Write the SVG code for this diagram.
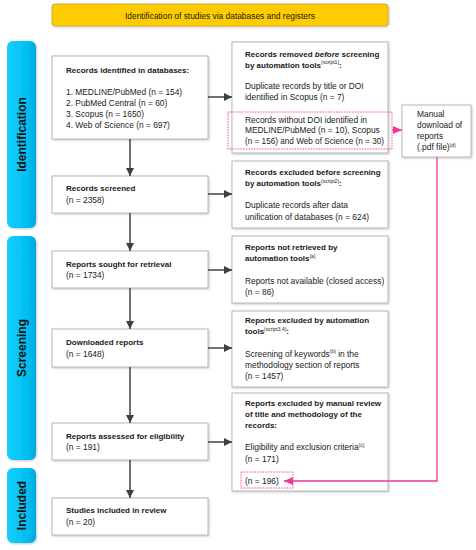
<svg xmlns="http://www.w3.org/2000/svg" width="476" height="550" viewBox="0 0 476 550">
<style>
text{font-family:"Liberation Sans",Arial,sans-serif;fill:#1a1a1a;font-size:8.4px}
.b{font-weight:bold;font-size:8px}
.sup{font-size:5px}
.box{fill:#fff;stroke:#a6a6a6;stroke-width:0.8;filter:url(#sh)}
.side{fill:url(#cy);filter:url(#sh)}
.sl{font-weight:bold;font-size:12px;fill:#111}
.ar{stroke:#404040;stroke-width:1.5;fill:none;marker-end:url(#ah)}
.pk{stroke:#f0369b;stroke-width:1.3;fill:none}
.pd{stroke:#f0369b;stroke-width:0.9;fill:none;stroke-dasharray:1.5 1.2}
</style>
<defs>
<linearGradient id="cy" x1="0" y1="0" x2="1" y2="0">
<stop offset="0" stop-color="#18cdfc"/>
<stop offset="0.7" stop-color="#00c0f2"/>
<stop offset="1" stop-color="#00a6d8"/>
</linearGradient>
<filter id="sh" x="-10%" y="-10%" width="130%" height="130%">
<feDropShadow dx="1" dy="1" stdDeviation="0.8" flood-color="#000" flood-opacity="0.22"/>
</filter>
<marker id="ah" markerUnits="userSpaceOnUse" markerWidth="9" markerHeight="8" refX="8" refY="4" orient="auto">
<path d="M0,0 L8,4 L0,8 Z" fill="#404040"/>
</marker>
<marker id="ap" markerUnits="userSpaceOnUse" markerWidth="10" markerHeight="8" refX="9" refY="4" orient="auto">
<path d="M0,0 L9,4 L0,8 Z" fill="#f0369b"/>
</marker>
</defs>

<g id="title">
<rect x="52" y="4" width="336" height="22" rx="3" fill="#ffcc00" stroke="#c9a227" stroke-width="0.8" filter="url(#sh)"/>
<text x="220" y="18.5" text-anchor="middle" font-size="9.6px">Identification of studies via databases and registers</text>
</g>

<g id="phase-identification">
<rect class="side" x="7" y="41" width="29" height="187" rx="6"/>
<text class="sl" transform="translate(26,134.5) rotate(-90)" text-anchor="middle">Identification</text>
</g>
<g id="phase-screening">
<rect class="side" x="7" y="236" width="29" height="224" rx="6"/>
<text class="sl" transform="translate(26,348) rotate(-90)" text-anchor="middle">Screening</text>
</g>
<g id="phase-included">
<rect class="side" x="7" y="468" width="29" height="75" rx="6"/>
<text class="sl" transform="translate(26,505.5) rotate(-90)" text-anchor="middle">Included</text>
</g>

<g id="records-identified">
<rect class="box" x="52" y="56" width="156" height="83"/>
<text class="b" x="66" y="73">Records identified in databases:</text>
<text x="66" y="95">1. MEDLINE/PubMed (n = 154)</text>
<text x="66" y="106">2. PubMed Central (n = 60)</text>
<text x="66" y="117">3. Scopus (n = 1650)</text>
<text x="66" y="128">4. Web of Science (n = 697)</text>
</g>

<g id="records-screened">
<rect class="box" x="52" y="176" width="156" height="37"/>
<text class="b" x="66" y="190.5">Records screened</text>
<text x="66" y="202.5">(n = 2358)</text>
</g>

<g id="reports-sought">
<rect class="box" x="52" y="251" width="156" height="37"/>
<text class="b" x="66" y="266.5">Reports sought for retrieval</text>
<text x="66" y="278">(n = 1734)</text>
</g>

<g id="downloaded-reports">
<rect class="box" x="52" y="329" width="156" height="38"/>
<text class="b" x="66" y="345">Downloaded reports</text>
<text x="66" y="356.5">(n = 1648)</text>
</g>

<g id="reports-assessed">
<rect class="box" x="52" y="423" width="156" height="37"/>
<text class="b" x="66" y="438.5">Reports assessed for eligibility</text>
<text x="66" y="450">(n = 191)</text>
</g>

<g id="studies-included">
<rect class="box" x="52" y="498" width="156" height="37"/>
<text class="b" x="66" y="513">Studies included in review</text>
<text x="66" y="525">(n = 20)</text>
</g>

<g id="records-removed">
<rect class="box" x="232" y="42" width="156" height="111"/>
<text class="b" x="245" y="56.5">Records removed <tspan font-style="italic">before</tspan> screening</text>
<text class="b" x="245" y="67.5">by automation tools<tspan class="sup" dy="-3.5" font-weight="normal">(script1)</tspan><tspan dy="3.5">:</tspan></text>
<text x="245" y="89">Duplicate records by title or DOI</text>
<text x="245" y="100">identified in Scopus (n = 7)</text>
<text x="245" y="122.5">Records without DOI identified in</text>
<text x="245" y="133">MEDLINE/PubMed (n = 10), Scopus</text>
<text x="245" y="144" textLength="139" lengthAdjust="spacingAndGlyphs">(n = 156) and Web of Science (n = 30)</text>
<rect class="pd" x="228" y="112" width="164" height="37"/>
</g>

<g id="manual-download">
<rect class="box" x="402" y="105" width="69" height="52"/>
<text x="417" y="116.5">Manual</text>
<text x="417" y="128">download of</text>
<text x="417" y="139">reports</text>
<text x="417" y="150">(.pdf file)<tspan class="sup" dy="-3.5">(d)</tspan></text>
</g>

<g id="records-excluded">
<rect class="box" x="232" y="161" width="156" height="67"/>
<text class="b" x="245" y="175">Records excluded before screening</text>
<text class="b" x="245" y="186">by automation tools<tspan class="sup" dy="-3.5" font-weight="normal">(script2)</tspan><tspan dy="3.5">:</tspan></text>
<text x="245" y="208">Duplicate records after data</text>
<text x="245" y="219.5">unification of databases (n = 624)</text>
</g>

<g id="reports-not-retrieved">
<rect class="box" x="232" y="236" width="156" height="67"/>
<text class="b" x="245" y="250">Reports not retrieved by</text>
<text class="b" x="245" y="261">automation tools<tspan class="sup" dy="-3.5" font-weight="normal">(a)</tspan></text>
<text x="245" y="283.5">Reports not available (closed access)</text>
<text x="245" y="295">(n = 86)</text>
</g>

<g id="reports-excluded-auto">
<rect class="box" x="232" y="311" width="156" height="76"/>
<text class="b" x="245" y="323">Reports excluded by automation</text>
<text class="b" x="245" y="334">tools<tspan class="sup" dy="-3.5" font-weight="normal">(script3,4)</tspan><tspan dy="3.5">:</tspan></text>
<text x="245" y="356.5">Screening of keywords<tspan class="sup" dy="-3.5">(b)</tspan><tspan dy="3.5"> in the</tspan></text>
<text x="245" y="367.5">methodology section of reports</text>
<text x="245" y="378.5">(n = 1457)</text>
</g>

<g id="reports-excluded-manual">
<rect class="box" x="232" y="393" width="156" height="98"/>
<text class="b" x="245" y="406">Reports excluded by manual review</text>
<text class="b" x="245" y="417">of title and methodology of the</text>
<text class="b" x="245" y="427.5">records:</text>
<text x="245" y="450">Eligibility and exclusion criteria<tspan class="sup" dy="-3.5">(c)</tspan></text>
<text x="245" y="461.5">(n = 171)</text>
<text x="245" y="483.5">(n = 196)</text>
<rect class="pd" x="241" y="472" width="52" height="16"/>
</g>

<g id="connectors">
<line class="ar" x1="130" y1="139" x2="130" y2="176"/>
<line class="ar" x1="130" y1="213" x2="130" y2="251"/>
<line class="ar" x1="130" y1="288" x2="130" y2="329"/>
<line class="ar" x1="130" y1="367" x2="130" y2="423"/>
<line class="ar" x1="130" y1="460" x2="130" y2="498"/>
<line class="ar" x1="208" y1="97" x2="232" y2="97"/>
<line class="ar" x1="208" y1="194" x2="232" y2="194"/>
<line class="ar" x1="208" y1="270" x2="232" y2="270"/>
<line class="ar" x1="208" y1="348" x2="232" y2="348"/>
<line class="ar" x1="208" y1="442" x2="232" y2="442"/>
<line class="pk" x1="392" y1="130" x2="402" y2="130" marker-end="url(#ap)"/>
<polyline class="pk" points="437,157 437,481 284,481" marker-end="url(#ap)"/>
</g>
</svg>
